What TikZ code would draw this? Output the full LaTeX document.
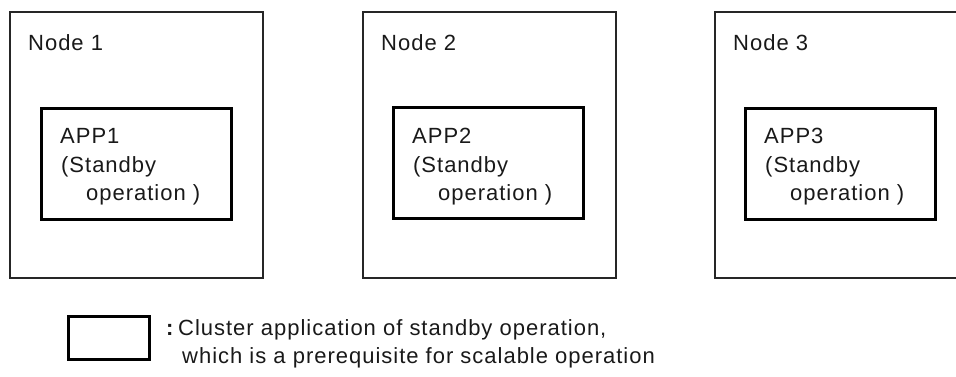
\documentclass[tikz,border=0pt]{standalone}
\usepackage{fontspec}
\setmainfont[LetterSpace=4.5]{Liberation Sans}
\begin{document}
\begin{tikzpicture}[x=1pt,y=-1pt,
  outerbox/.style={draw=black!85, line width=1.5pt, minimum width=253pt, minimum height=266pt, anchor=north west, inner sep=0pt},
  appbox/.style={draw=black, line width=3pt, minimum width=190pt, minimum height=111pt, anchor=north west, inner sep=0pt},
  lbl/.style={anchor=base west, inner sep=0pt, font=\fontsize{22}{28}\selectfont, text=black!90}
]
\useasboundingbox (0,0) rectangle (956,376);
\clip (0,0) rectangle (956,376);
% nodes
\node[outerbox] (node1) at (9,11) {};
\node[outerbox] (node2) at (362,11) {};
\node[outerbox] (node3) at (714,11) {};
\node[lbl] (node1t) at (28,50) {Node 1};
\node[lbl] (node2t) at (381,50) {Node 2};
\node[lbl] (node3t) at (733,50) {Node 3};
% apps
\node[appbox] (app1) at (40,107) {};
\node[appbox] (app2) at (392,106) {};
\node[appbox] (app3) at (744,107) {};
\foreach \x/\n in {60/1,412/2,764/3}{
  \node[lbl] (app\n a) at (\x,143) {APP\n};
  \node[lbl] (app\n b) at (\x+1,172) {(Standby};
  \node[lbl] (app\n c) at (\x+26,200) {operation )};
}
% legend
\node[draw=black, line width=3pt, minimum width=81pt, minimum height=43pt, anchor=north west, inner sep=0pt] (legbox) at (67,315) {};
\node[lbl] (colon) at (166,335) {\textbf{:}};
\node[lbl] (leg1) at (178,335) {Cluster application of standby operation,};
\node[lbl] (leg2) at (182,363) {which is a prerequisite for scalable operation};
\end{tikzpicture}
\end{document}
